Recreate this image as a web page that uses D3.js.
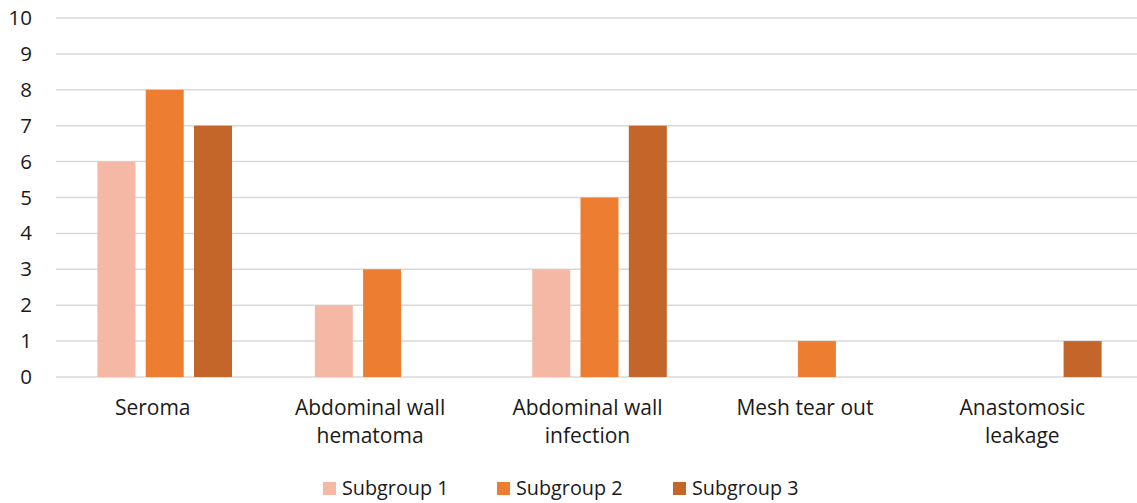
<!DOCTYPE html>
<html>
<head>
<meta charset="utf-8">
<script src="https://cdn.jsdelivr.net/npm/d3@7"></script>
<style>
  body { margin: 0; background: #fff; }
  svg { display: block; font-family: "Open Sans", sans-serif; }
</style>
</head>
<body>
<svg id="chart" width="1137" height="503"></svg>
<script>
// data
var categories = ["Seroma", "Abdominal wall hematoma", "Abdominal wall infection", "Mesh tear out", "Anastomosic leakage"];
var categoryLines = [["Seroma"], ["Abdominal wall", "hematoma"], ["Abdominal wall", "infection"], ["Mesh tear out"], ["Anastomosic", "leakage"]];
var subgroups = ["Subgroup 1", "Subgroup 2", "Subgroup 3"];
var subgroup1 = [6, 2, 3, 0, 0];
var subgroup2 = [8, 3, 5, 1, 0];
var subgroup3 = [7, 0, 7, 0, 1];
var yTicks = [0, 1, 2, 3, 4, 5, 6, 7, 8, 9, 10];
var colors = ["#F4B8A5", "#ED7D31", "#C4652A"];

var series = [subgroup1, subgroup2, subgroup3];

var svg = d3.select("#chart");

var x0 = d3.scaleBand().domain(categories).range([56, 1143]).padding(0);
var half = (3 * 48.3 - 10.3) / 2;
var x1 = d3.scaleBand().domain(subgroups).range([-half, half]).paddingInner(0.213).paddingOuter(0);
var y = d3.scaleLinear().domain([0, 10]).range([377, 18]);
var color = d3.scaleOrdinal().domain(subgroups).range(colors);

// gridlines
svg.append("g")
  .selectAll("line")
  .data(yTicks)
  .enter().append("line")
  .attr("x1", 56).attr("x2", 1137)
  .attr("y1", function(d) { return y(d); })
  .attr("y2", function(d) { return y(d); })
  .attr("stroke", "#d9d9d9")
  .attr("stroke-width", 1.5);

// y axis labels
var yAxis = d3.axisLeft(y).tickValues(yTicks).tickSize(0).tickPadding(0);
svg.append("g")
  .attr("transform", "translate(32,0)")
  .call(yAxis)
  .call(function(g) { g.select(".domain").remove(); })
  .selectAll("text")
  .attr("font-size", 20.5)
  .attr("font-family", "Open Sans, sans-serif")
  .attr("fill", "#1a1a1a");

// bars
var groups = svg.append("g")
  .selectAll("g")
  .data(categories)
  .enter().append("g")
  .attr("transform", function(d) { return "translate(" + (x0(d) + x0.bandwidth() / 2) + ",0)"; });

groups.selectAll("rect")
  .data(function(d, i) {
    return subgroups.map(function(s, j) { return { key: s, value: series[j][i] }; });
  })
  .enter().append("rect")
  .attr("x", function(d) { return x1(d.key); })
  .attr("width", x1.bandwidth())
  .attr("y", function(d) { return y(d.value); })
  .attr("height", function(d) { return y(0) - y(d.value); })
  .attr("fill", function(d) { return color(d.key); });

// category labels (sit a little left of the bar groups, as in the original)
var labels = svg.append("g")
  .selectAll("text")
  .data(categories)
  .enter().append("text")
  .attr("x", function(d) { return x0(d) + x0.bandwidth() / 2 - 12; })
  .attr("y", 415)
  .attr("text-anchor", "middle")
  .attr("font-size", 21)
  .attr("fill", "#1a1a1a");

labels.selectAll("tspan")
  .data(function(d, i) { return categoryLines[i]; })
  .enter().append("tspan")
  .attr("x", function() { return d3.select(this.parentNode).attr("x"); })
  .attr("dy", function(d, i) { return i === 0 ? 0 : 28; })
  .text(function(d) { return d; });

// legend
var legendX = [323, 497, 673];
var legend = svg.append("g")
  .selectAll("g")
  .data(subgroups)
  .enter().append("g")
  .attr("transform", function(d, i) { return "translate(" + legendX[i] + ",482)"; });

legend.append("rect")
  .attr("width", 13).attr("height", 13)
  .attr("fill", function(d) { return color(d); });

legend.append("text")
  .attr("x", 19).attr("y", 13)
  .attr("font-size", 19.8)
  .attr("fill", "#1a1a1a")
  .text(function(d) { return d; });
</script>
</body>
</html>
